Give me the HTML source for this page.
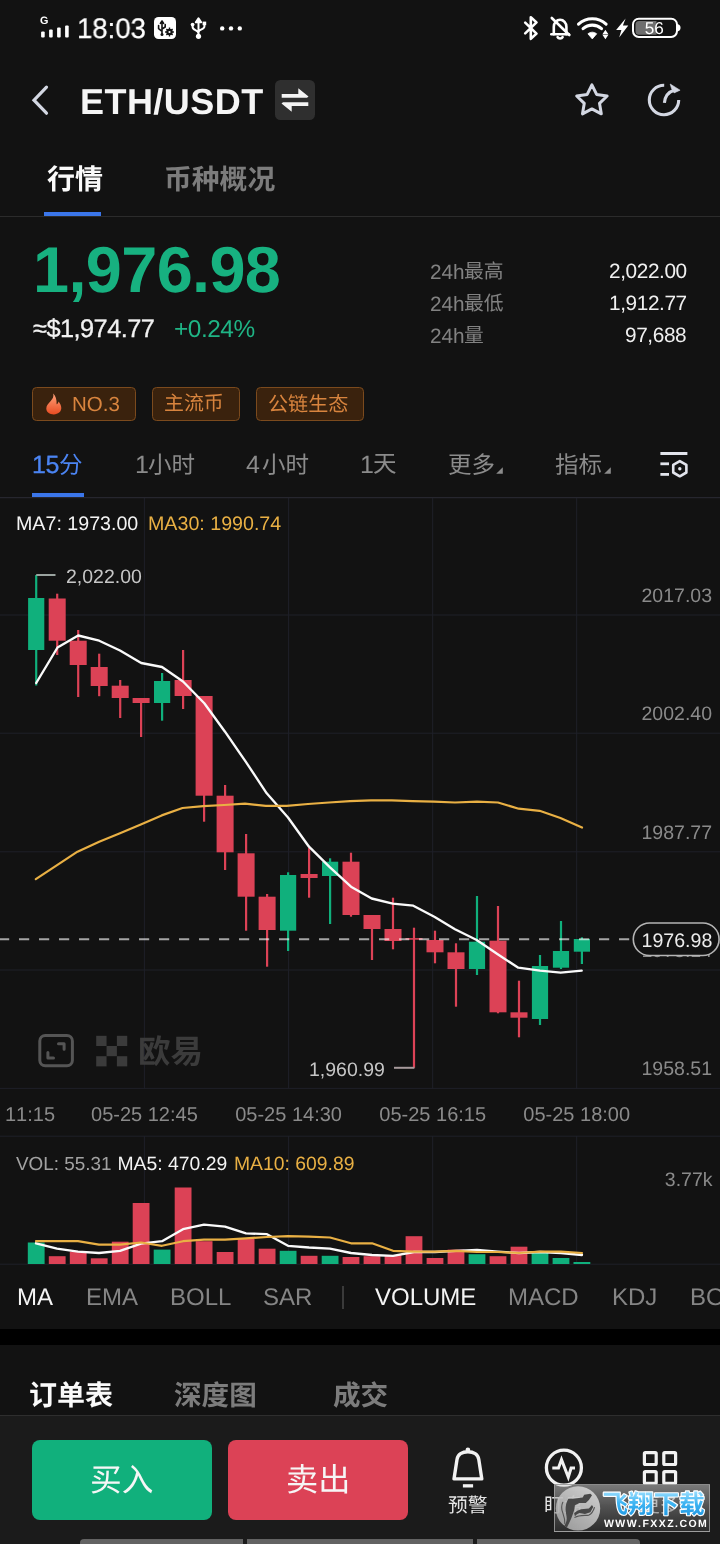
<!DOCTYPE html>
<html lang="zh-CN"><head><meta charset="utf-8"><title>ETH/USDT</title>
<style>
html,body{margin:0;padding:0;background:#121212}
*{text-rendering:geometricPrecision;-webkit-font-smoothing:antialiased;font-kerning:none}
body{width:720px;height:1544px;overflow:hidden;position:relative;font-family:"Liberation Sans",sans-serif}
#app{position:absolute;left:0;top:0;width:720px;height:1544px;overflow:hidden;background:#121212}
.t,svg.abs{will-change:transform}
.abs,.cj,.t,.tag{position:absolute}
.t{line-height:1;white-space:nowrap;font-family:"Liberation Sans",sans-serif}
.c{font-family:"Liberation Sans","Noto Sans CJK SC",sans-serif}
.cj{display:block;overflow:visible}
.tag{top:387px;height:34px;box-sizing:border-box;border:1.500px solid #7b4a1d;border-radius:4.500px;background:#3a220d}
</style></head><body><div id="app">
<!-- status bar -->
<svg class="abs" style="left:0;top:0" width="720" height="56" viewBox="0 0 720 56">
<g fill="#fff">
<text x="40" y="23.600" font-family="Liberation Sans" font-weight="700" font-size="10.800">G</text>
<rect x="41.100" y="31.600" width="3.600" height="6" rx="1"/><rect x="49.100" y="29.500" width="3.600" height="8.100" rx="1"/><rect x="57.100" y="27.400" width="3.600" height="10.200" rx="1"/><rect x="65.100" y="25.400" width="3.600" height="12.200" rx="1"/>
<rect x="154" y="17" width="22" height="22" rx="4.5"/>
<circle cx="222.200" cy="28.400" r="2.200"/><circle cx="231" cy="28.400" r="2.200"/><circle cx="239.800" cy="28.400" r="2.200"/>
</g>
<!-- usb inside square (dark) -->
<g stroke="#121212" stroke-width="1.6" fill="none" stroke-linecap="round" stroke-linejoin="round">
<path d="M162 21v13M162 21l-1.6 2.4M162 21l1.6 2.4M158.6 25.5v3.2l3.4 2.6M165.2 24.6v2.4l-3.2 2"/>
</g>
<circle cx="162" cy="34.6" r="1.5" fill="#121212"/>
<g fill="#121212"><circle cx="169.5" cy="32" r="3.2"/></g><circle cx="169.5" cy="32" r="1.3" fill="#fff"/>
<g stroke="#121212" stroke-width="1.4"><path d="M169.5 27.6v8.8M165.1 32h8.8M166.4 28.9l6.2 6.2M172.6 28.9l-6.2 6.2"/></g><circle cx="169.5" cy="32" r="2.4" fill="#121212"/><circle cx="169.5" cy="32" r="1.1" fill="#fff"/>
<!-- usb -->
<g stroke="#fff" stroke-width="2" fill="none" stroke-linecap="round" stroke-linejoin="round">
<path d="M198.500 20v15.500M198.500 18.300l-2.700 4h5.400zM192.600 25v2c0 3.600 5.900 2.600 5.900 6.600M204.400 24.600v1.800c0 3.400-5.900 2.400-5.900 6"/>
</g>
<circle cx="198.5" cy="36.3" r="2.6" fill="#fff"/><circle cx="192.6" cy="24.6" r="1.9" fill="#fff"/><rect x="202.6" y="21.6" width="3.6" height="3.6" fill="#fff"/>
<!-- bluetooth -->
<path d="M525.200 22.600l11.300 11-5.700 5.200v-21.600l5.700 5.200-11.300 11" stroke="#fff" stroke-width="2.600" fill="none" stroke-linejoin="round" stroke-linecap="round"/>
<!-- bell off -->
<g stroke="#fff" stroke-width="2.600" fill="none" stroke-linecap="round" stroke-linejoin="round">
<path d="M551.300 34.300h17.600"/><path d="M553.800 34.300v-7.600a6.300 7 0 0 1 12.600 0v7.600"/>
<path d="M557.600 37.200a2.700 2.200 0 0 0 5 0"/><path d="M551.800 18l17.500 17" />
</g>
<!-- wifi -->
<g stroke="#fff" stroke-width="3.100" fill="none" stroke-linecap="round"><path d="M578.52 24.13A20.2 20.2 0 0 1 606.08 24.13"/><path d="M583.07 28.64A13.8 13.8 0 0 1 601.53 28.64"/></g>
<path d="M592.300 38.900L587.900 33.800A6.700 6.700 0 0 1 596.700 33.800z" fill="#fff" stroke="#fff" stroke-width=".8" stroke-linejoin="round"/>
<path d="M605.400 29.800l3 4.400h-6zM605.400 39.200l3-4.400h-6z" fill="#fff"/>
<!-- bolt -->
<path d="M625.600 18.400l-9.500 11.600h5.300l-2.200 7.400 9.100-12h-5.400z" fill="#fff"/>
<!-- battery -->
<rect x="633" y="18.700" width="44" height="18.200" rx="5.800" fill="none" stroke="#fff" stroke-width="2"/>
<path d="M639 20.900h17.500v13.800h-17.500a3.500 3.500 0 0 1-3.500-3.500v-6.800a3.500 3.500 0 0 1 3.500-3.500z" fill="#6e6e6e"/>
<path d="M678 24.300c3.400.4 3.400 6.600 0 7z" fill="#fff"/>
<text x="654.200" y="34" font-family="Liberation Sans" font-size="17.200" fill="#fff" text-anchor="middle">56</text>
</svg>
<div class="t" style="left:77.20px;top:14.96px;font-size:28.4px;color:#fff;font-weight:400;transform:scaleX(.97);transform-origin:0 0;-webkit-text-stroke:.25px #fff;">18:03</div>
<!-- header -->
<svg class="abs" style="left:28px;top:82px" width="24" height="36" viewBox="0 0 24 36"><path d="M18.500 5.200L6 18.200l12.500 13" fill="none" stroke="#d3d7e2" stroke-width="3.200" stroke-linecap="round" stroke-linejoin="miter"/></svg>
<div class="t" style="left:79.80px;top:84.03px;font-size:36px;color:#f5f5f5;font-weight:700;letter-spacing:0.45px;">ETH/USDT</div>
<svg class="abs" style="left:275px;top:80px" width="40" height="40" viewBox="0 0 40 40"><rect width="40" height="40" rx="5.500" fill="#2f2f2f"/><path d="M6.700 13.900H30l3.500 2.700-1.500 1.200H6.700zM23.300 8.300L33.500 16.600 23.300 17.500zM33.300 26.100H10L6.500 23.400 8 22.200h25.300zM16.700 31.700L6.500 23.400l10.200-.9z" fill="#f4f4f4"/></svg>
<svg class="abs" style="left:570px;top:78px" width="44" height="44" viewBox="570 78 44 44"><polygon points="591.90,84.90 596.60,94.43 607.12,95.96 599.51,103.37 601.30,113.84 591.90,108.90 582.50,113.84 584.29,103.37 576.68,95.96 587.20,94.43" fill="none" stroke="#d3d7e2" stroke-width="3" stroke-linejoin="round"/></svg>
<svg class="abs" style="left:642px;top:78px" width="44" height="44" viewBox="642 78 44 44"><g fill="none" stroke="#d3d7e2" stroke-width="3.100" stroke-linecap="butt" stroke-linejoin="round"><path d="M664.200 85.300a14.700 14.700 0 1 0 14.500 14.700"/><path d="M664.400 102.900c.4-6.400 3.900-11 10.200-13"/></g><path d="M670.200 84l9.900 6.200-6 2.700-2.600-4.400z" fill="#d3d7e2" stroke="#d3d7e2" stroke-width=".6" stroke-linejoin="round"/></svg>
<!-- tabs -->
<div class="t c" style="left:46.78px;top:166.30px;font-size:28px;color:#fafafa;font-weight:700;">行情</div>
<div class="t c" style="left:164.11px;top:166.30px;font-size:27.8px;color:#7c7c7c;font-weight:700;">币种概况</div>
<div class="abs" style="left:44px;top:212px;width:56.500px;height:4.500px;background:#3b76ea"></div>
<div class="abs" style="left:0;top:216px;width:720px;height:1.200px;background:#2b2b2b"></div>
<!-- price -->
<div class="t" style="left:33.00px;top:238.35px;font-size:64.8px;color:#17b180;font-weight:700;letter-spacing:-0.62px;">1,976.98</div>
<div class="t" style="left:33.00px;top:316.70px;font-size:25.4px;color:#f2f2f2;font-weight:400;letter-spacing:-0.55px;-webkit-text-stroke:.3px #f2f2f2;">≈$1,974.77</div>
<div class="t" style="left:174.20px;top:317.55px;font-size:24.4px;color:#1fb485;font-weight:400;letter-spacing:-0.45px;">+0.24%</div>
<div class="t" style="left:429.60px;top:262.89px;font-size:20.8px;color:#828282;font-weight:400;letter-spacing:-0.1px;">24h</div>
<div class="t c" style="left:464.07px;top:263.33px;font-size:19.8px;color:#828282;font-weight:400;">最高</div>
<div class="t" style="right:33.50px;top:262.39px;font-size:20.8px;color:#f0f0f0;font-weight:400;letter-spacing:-0.4px;">2,022.00</div>
<div class="t" style="left:429.60px;top:294.89px;font-size:20.8px;color:#828282;font-weight:400;letter-spacing:-0.1px;">24h</div>
<div class="t c" style="left:464.07px;top:295.23px;font-size:19.8px;color:#828282;font-weight:400;">最低</div>
<div class="t" style="right:33.50px;top:294.39px;font-size:20.8px;color:#f0f0f0;font-weight:400;letter-spacing:-0.4px;">1,912.77</div>
<div class="t" style="left:429.60px;top:326.89px;font-size:20.8px;color:#828282;font-weight:400;letter-spacing:-0.1px;">24h</div>
<div class="t c" style="left:464.07px;top:326.64px;font-size:19.8px;color:#828282;font-weight:400;">量</div>
<div class="t" style="right:33.50px;top:326.39px;font-size:20.8px;color:#f0f0f0;font-weight:400;letter-spacing:-0.4px;">97,688</div>
<!-- tags -->
<div class="tag" style="left:32px;width:104px"></div>
<div class="tag" style="left:152px;width:88px"></div>
<div class="tag" style="left:256px;width:108px"></div>
<svg class="abs" style="left:45px;top:392px" width="18" height="24" viewBox="0 0 18 24"><defs><linearGradient id="fl" x1="0" y1="0" x2="0" y2="1"><stop offset="0" stop-color="#ffa27a"/><stop offset="1" stop-color="#e84c22"/></linearGradient></defs><path d="M8.200 1.600c.8 3.400-.6 5.300-2.500 7.400C3.600 11.300 1.300 13.300 1.300 16.500c0 3.600 3.200 5.900 7.500 5.900s7.500-2.500 7.500-6.300c0-2.600-1.300-5-2.700-6.700-.4 1.400-1 2.300-2 2.900.3-4.400-1-8.400-3.400-10.700z" fill="url(#fl)"/></svg>
<div class="t" style="left:72.00px;top:395.25px;font-size:20.5px;color:#d8843e;font-weight:400;">NO.3</div>
<div class="t c" style="left:164.09px;top:394.67px;font-size:19.9px;color:#d8843e;font-weight:400;">主流币</div>
<div class="t c" style="left:267.77px;top:394.75px;font-size:20.1px;color:#d8843e;font-weight:400;">公链生态</div>
<!-- timeframes -->
<div class="t" style="left:32.00px;top:453.14px;font-size:25px;color:#4b84f2;font-weight:400;letter-spacing:-0.4px;-webkit-text-stroke:.3px #4b84f2;">15</div>
<div class="t c" style="left:59.47px;top:453.63px;font-size:23.5px;color:#4b84f2;font-weight:400;">分</div>
<div class="t" style="left:134.60px;top:453.14px;font-size:25px;color:#8b8b8b;font-weight:400;">1</div>
<div class="t c" style="left:147.85px;top:453.93px;font-size:23.5px;color:#8b8b8b;font-weight:400;">小时</div>
<div class="t" style="left:246.20px;top:453.14px;font-size:25px;color:#8b8b8b;font-weight:400;">4</div>
<div class="t c" style="left:261.85px;top:453.93px;font-size:23.5px;color:#8b8b8b;font-weight:400;">小时</div>
<div class="t" style="left:359.60px;top:453.14px;font-size:25px;color:#8b8b8b;font-weight:400;">1</div>
<div class="t c" style="left:372.61px;top:453.24px;font-size:23.5px;color:#8b8b8b;font-weight:400;">天</div>
<div class="t c" style="left:447.90px;top:454.30px;font-size:23.5px;color:#8b8b8b;font-weight:400;">更多</div>
<div class="t c" style="left:555.47px;top:454.05px;font-size:23.5px;color:#8b8b8b;font-weight:400;">指标</div>
<svg class="abs" style="left:495px;top:466px" width="9" height="9" viewBox="0 0 9 9"><path d="M7.800 1.200v6.600H1.200z" fill="#8b8b8b"/></svg>
<svg class="abs" style="left:603px;top:466px" width="9" height="9" viewBox="0 0 9 9"><path d="M7.800 1.200v6.600H1.200z" fill="#8b8b8b"/></svg>
<div class="abs" style="left:31.500px;top:492.500px;width:52.500px;height:4.500px;background:#3b76ea"></div>
<svg class="abs" style="left:656px;top:448px" width="36" height="34" viewBox="656 448 36 34"><g fill="#e2e4ec"><rect x="660.400" y="452" width="27" height="3"/><rect x="660.400" y="462.400" width="8.600" height="2.800"/><rect x="660.400" y="473" width="8.600" height="2.800"/><circle cx="679.800" cy="468.700" r="1.700"/></g><polygon points="679.80,461.10 686.38,464.90 686.38,472.50 679.80,476.30 673.22,472.50 673.22,464.90" fill="none" stroke="#e2e4ec" stroke-width="2.600" stroke-linejoin="round"/></svg>
<!-- chart -->
<svg class="abs" style="left:0;top:497px" width="720" height="769" viewBox="0 497 720 769" font-family="Liberation Sans, sans-serif">
<g stroke="#1f2029" stroke-width="1" fill="none">
<path d="M144.4 497.500V1088.500M144.4 1136V1264"/>
<path d="M288.6 497.500V1088.500M288.6 1136V1264"/>
<path d="M432.7 497.500V1088.500M432.7 1136V1264"/>
<path d="M576.7 497.500V1088.500M576.7 1136V1264"/>
<path d="M0 615H720"/>
<path d="M0 733.2H720"/>
<path d="M0 851.8H720"/>
<path d="M0 970H720"/>
<path d="M0 1088.4H720"/>
<path d="M0 1136.2H720"/>
<path d="M0 1264.2H720"/>
</g>
<path d="M0 497.600H720" stroke="#26262e" stroke-width="1.400"/>
<rect x="35.1" y="575" width="2.200" height="110.5" fill="#10b07c"/><rect x="28.1" y="598" width="16.2" height="52.0" fill="#10b07c"/>
<rect x="56.1" y="593.7" width="2.200" height="61.3" fill="#dc4256"/><rect x="48.7" y="598.5" width="17.0" height="42.2" fill="#dc4256"/>
<rect x="77.1" y="630" width="2.200" height="67.0" fill="#dc4256"/><rect x="69.7" y="640.7" width="17.0" height="24.3" fill="#dc4256"/>
<rect x="98.1" y="653.7" width="2.200" height="42.5" fill="#dc4256"/><rect x="90.7" y="667" width="17.0" height="19.0" fill="#dc4256"/>
<rect x="119.1" y="680" width="2.200" height="38.0" fill="#dc4256"/><rect x="111.7" y="685.7" width="17.0" height="12.3" fill="#dc4256"/>
<rect x="140.0" y="698" width="2.200" height="39.0" fill="#dc4256"/><rect x="132.6" y="698" width="17.0" height="5.0" fill="#dc4256"/>
<rect x="161.0" y="673" width="2.200" height="47.7" fill="#10b07c"/><rect x="154.0" y="681" width="16.2" height="22.0" fill="#10b07c"/>
<rect x="182.0" y="650" width="2.200" height="59.0" fill="#dc4256"/><rect x="174.6" y="680" width="17.0" height="16.0" fill="#dc4256"/>
<rect x="203.0" y="696" width="2.200" height="125.7" fill="#dc4256"/><rect x="195.6" y="696" width="17.0" height="99.7" fill="#dc4256"/>
<rect x="224.0" y="785" width="2.200" height="85.0" fill="#dc4256"/><rect x="216.6" y="795.7" width="17.0" height="56.6" fill="#dc4256"/>
<rect x="245.0" y="834" width="2.200" height="96.7" fill="#dc4256"/><rect x="237.6" y="853.3" width="17.0" height="43.4" fill="#dc4256"/>
<rect x="266.0" y="894" width="2.200" height="72.7" fill="#dc4256"/><rect x="258.6" y="896.7" width="17.0" height="33.3" fill="#dc4256"/>
<rect x="287.0" y="872.3" width="2.200" height="78.7" fill="#10b07c"/><rect x="280.0" y="875" width="16.2" height="55.7" fill="#10b07c"/>
<rect x="308.0" y="847.7" width="2.200" height="50.0" fill="#dc4256"/><rect x="300.6" y="874" width="17.0" height="4.0" fill="#dc4256"/>
<rect x="329.0" y="858.3" width="2.200" height="65.7" fill="#10b07c"/><rect x="322.0" y="861.7" width="16.2" height="14.3" fill="#10b07c"/>
<rect x="349.9" y="852.7" width="2.200" height="64.0" fill="#dc4256"/><rect x="342.5" y="861.7" width="17.0" height="53.3" fill="#dc4256"/>
<rect x="370.9" y="915" width="2.200" height="45.0" fill="#dc4256"/><rect x="363.5" y="915" width="17.0" height="14.0" fill="#dc4256"/>
<rect x="391.9" y="897.7" width="2.200" height="51.6" fill="#dc4256"/><rect x="384.5" y="929" width="17.0" height="12.0" fill="#dc4256"/>
<rect x="412.9" y="927.7" width="2.200" height="140.1" fill="#dc4256"/><rect x="405.5" y="938.1" width="17.0" height="1.6" fill="#dc4256"/>
<rect x="433.9" y="930.7" width="2.200" height="32.6" fill="#dc4256"/><rect x="426.5" y="940" width="17.0" height="12.3" fill="#dc4256"/>
<rect x="454.9" y="943.3" width="2.200" height="63.4" fill="#dc4256"/><rect x="447.5" y="952.3" width="17.0" height="16.7" fill="#dc4256"/>
<rect x="475.9" y="896" width="2.200" height="79.0" fill="#10b07c"/><rect x="468.9" y="941.7" width="16.2" height="27.3" fill="#10b07c"/>
<rect x="496.9" y="906" width="2.200" height="107.3" fill="#dc4256"/><rect x="489.5" y="940.7" width="17.0" height="71.6" fill="#dc4256"/>
<rect x="517.9" y="980.7" width="2.200" height="56.6" fill="#dc4256"/><rect x="510.5" y="1012.3" width="17.0" height="5.4" fill="#dc4256"/>
<rect x="538.9" y="955" width="2.200" height="70.0" fill="#10b07c"/><rect x="531.9" y="966" width="16.2" height="53.0" fill="#10b07c"/>
<rect x="559.9" y="921" width="2.200" height="48.0" fill="#10b07c"/><rect x="552.9" y="951" width="16.2" height="16.7" fill="#10b07c"/>
<rect x="580.8" y="937.3" width="2.200" height="26.7" fill="#10b07c"/><rect x="573.8" y="939" width="16.2" height="12.7" fill="#10b07c"/>
<path d="M-1 939.200H632" stroke="#fff" stroke-opacity=".62" stroke-width="2" stroke-dasharray="10.200 9.800" fill="none"/>
<polyline points="36.2,683 57.5,647.5 78.2,635.5 99.2,640.7 120,650.5 141.2,663 162,667 183,681.5 204.3,703.3 225,731.7 245.7,761.7 266.7,793.3 288,817.5 309,846.7 330,867.3 351,886.7 371.7,898.5 392.7,903.7 413.3,905.7 434.3,916.7 455,929.3 476.7,940 497.7,954.3 518.3,967.7 540,970.7 560.7,972.7 581.7,970.7" fill="none" stroke="#fafafa" stroke-width="2.350" stroke-linejoin="round" stroke-linecap="round"/>
<polyline points="35.8,879.2 56.7,865.4 77.5,851.7 99.2,841.7 120,833.3 140.8,824.6 161.7,815.4 182.5,808 203.3,806.2 224.2,805 245,803.7 265.8,805.8 286.7,805.8 308,804 329,802.5 350,801.2 371,800.4 391.7,800.4 412.5,801.2 434,801.7 455,802.5 477,801.7 498,802.5 518.7,808.7 539.6,810.8 560.4,818 582,827.5" fill="none" stroke="#e9b044" stroke-width="2.200" stroke-linejoin="round" stroke-linecap="round"/>
<path d="M36.200 575H55.500" stroke="#9aa39f" stroke-width="2" fill="none"/>
<path d="M394 1067.800H414.400" stroke="#a79a9c" stroke-width="2" fill="none"/>
<text x="66" y="583" font-size="19.500" fill="#c6c6c6">2,022.00</text>
<text x="309" y="1076" font-size="19.500" fill="#c6c6c6">1,960.99</text>
<text x="16" y="530.300" font-size="19.650" fill="#f4f4f4">MA7: 1973.00</text>
<text x="148" y="530.300" font-size="19.650" fill="#e9b044">MA30: 1990.74</text>
<text x="712" y="602.0" font-size="19.500" fill="#8a8a8a" text-anchor="end">2017.03</text>
<text x="712" y="720.3" font-size="19.500" fill="#8a8a8a" text-anchor="end">2002.40</text>
<text x="712" y="838.6" font-size="19.500" fill="#8a8a8a" text-anchor="end">1987.77</text>
<text x="712" y="956.9" font-size="19.500" fill="#8a8a8a" text-anchor="end">1973.14</text>
<text x="712" y="1075.2" font-size="19.500" fill="#8a8a8a" text-anchor="end">1958.51</text>
<rect x="633.300" y="923" width="85.800" height="32.500" rx="16.250" fill="#121212" stroke="#b4b4b4" stroke-width="1.600"/>
<text x="641.500" y="947.300" font-size="19.600" fill="#ececec">1976.98</text>
<g fill="none" stroke="#555" stroke-width="3" stroke-linecap="round" stroke-linejoin="round"><rect x="39.800" y="1035.400" width="32.600" height="30.400" rx="5.500"/><path d="M58.500 1043.700h5.600v5.600M53.500 1058h-5.600v-5.600"/></g>
<g fill="#3b3b3b">
<rect x="96.20" y="1035.80" width="10.350" height="10.200"/>
<rect x="116.90" y="1035.80" width="10.350" height="10.200"/>
<rect x="106.55" y="1046.00" width="10.350" height="10.200"/>
<rect x="96.20" y="1056.20" width="10.350" height="10.200"/>
<rect x="116.90" y="1056.20" width="10.350" height="10.200"/>
</g>
<text x="144.4" y="1121" font-size="20" fill="#8a8a8a" text-anchor="middle">05-25 12:45</text>
<text x="288.6" y="1121" font-size="20" fill="#8a8a8a" text-anchor="middle">05-25 14:30</text>
<text x="432.7" y="1121" font-size="20" fill="#8a8a8a" text-anchor="middle">05-25 16:15</text>
<text x="576.7" y="1121" font-size="20" fill="#8a8a8a" text-anchor="middle">05-25 18:00</text>
<text x="5" y="1121" font-size="20" fill="#8a8a8a">11:15</text>
<text x="16" y="1169.800" font-size="18.900" fill="#a2a2a2">VOL: 55.31</text>
<text x="117.500" y="1169.800" font-size="19.350" fill="#f4f4f4">MA5: 470.29</text>
<text x="234" y="1169.800" font-size="19.350" fill="#e9b044">MA10: 609.89</text>
<text x="712.500" y="1186.300" font-size="19.500" fill="#8a8a8a" text-anchor="end">3.77k</text>
<rect x="27.8" y="1242.5" width="16.800" height="21.5" fill="#10b07c"/>
<rect x="48.8" y="1256.2" width="16.800" height="7.8" fill="#dc4256"/>
<rect x="69.8" y="1251.7" width="16.800" height="12.3" fill="#dc4256"/>
<rect x="90.8" y="1258.3" width="16.800" height="5.7" fill="#dc4256"/>
<rect x="111.8" y="1241.7" width="16.800" height="22.3" fill="#dc4256"/>
<rect x="132.7" y="1203" width="16.800" height="61.0" fill="#dc4256"/>
<rect x="153.7" y="1249.6" width="16.800" height="14.4" fill="#10b07c"/>
<rect x="174.7" y="1187.5" width="16.800" height="76.5" fill="#dc4256"/>
<rect x="195.7" y="1241.2" width="16.800" height="22.8" fill="#dc4256"/>
<rect x="216.7" y="1252" width="16.800" height="12.0" fill="#dc4256"/>
<rect x="237.7" y="1238.3" width="16.800" height="25.7" fill="#dc4256"/>
<rect x="258.7" y="1248.7" width="16.800" height="15.3" fill="#dc4256"/>
<rect x="279.7" y="1250.8" width="16.800" height="13.2" fill="#10b07c"/>
<rect x="300.7" y="1255.8" width="16.800" height="8.2" fill="#dc4256"/>
<rect x="321.7" y="1255.8" width="16.800" height="8.2" fill="#10b07c"/>
<rect x="342.6" y="1257" width="16.800" height="7.0" fill="#dc4256"/>
<rect x="363.6" y="1256.2" width="16.800" height="7.8" fill="#dc4256"/>
<rect x="384.6" y="1255" width="16.800" height="9.0" fill="#dc4256"/>
<rect x="405.6" y="1236.2" width="16.800" height="27.8" fill="#dc4256"/>
<rect x="426.6" y="1258" width="16.800" height="6.0" fill="#dc4256"/>
<rect x="447.6" y="1249.6" width="16.800" height="14.4" fill="#dc4256"/>
<rect x="468.6" y="1254.2" width="16.800" height="9.8" fill="#10b07c"/>
<rect x="489.6" y="1256.2" width="16.800" height="7.8" fill="#dc4256"/>
<rect x="510.6" y="1246.7" width="16.800" height="17.3" fill="#dc4256"/>
<rect x="531.6" y="1253" width="16.800" height="11.0" fill="#10b07c"/>
<rect x="552.6" y="1258" width="16.800" height="6.0" fill="#10b07c"/>
<rect x="573.5" y="1262" width="16.800" height="2.0" fill="#10b07c"/>
<polyline points="36,1243.3 57,1248.7 78,1251.7 99,1253 120,1250.8 141,1243.7 162,1241.2 183,1229.2 204,1224.6 225,1226.7 246,1233.3 267,1234.2 288,1245.8 309,1247.5 330,1248.7 351,1253 372,1255 393,1255.8 414,1252 435,1252 456,1250.8 477,1250 498,1251.7 519,1253 540,1252 561,1253 582,1255" fill="none" stroke="#fafafa" stroke-width="2.350" stroke-linejoin="round" stroke-linecap="round"/>
<polyline points="36,1241.2 78,1241.2 99,1244.6 120,1244.6 141,1242.5 162,1245.8 183,1241.2 204,1239.6 225,1239.6 246,1238.3 267,1237 288,1236.2 309,1236.6 330,1237.5 351,1243.3 372,1243.3 393,1250.8 414,1251.7 435,1251.7 456,1250.8 477,1252 498,1252 519,1253 540,1251.7 561,1251.7 582,1253" fill="none" stroke="#e9b044" stroke-width="2.200" stroke-linejoin="round" stroke-linecap="round"/>
</svg>
<div class="t c" style="left:137.52px;top:1035.77px;font-size:32.5px;color:#3b3b3b;font-weight:700;">欧易</div>
<!-- indicator tabs -->
<div class="t" style="left:16.50px;top:1286.18px;font-size:24px;color:#f4f4f4;font-weight:400;">MA</div>
<div class="t" style="left:86.00px;top:1286.18px;font-size:24px;color:#858585;font-weight:400;">EMA</div>
<div class="t" style="left:170.00px;top:1286.18px;font-size:24px;color:#858585;font-weight:400;">BOLL</div>
<div class="t" style="left:262.50px;top:1286.18px;font-size:24px;color:#858585;font-weight:400;">SAR</div>
<div class="t" style="left:375.00px;top:1286.18px;font-size:24px;color:#f4f4f4;font-weight:400;">VOLUME</div>
<div class="t" style="left:507.50px;top:1286.18px;font-size:24px;color:#858585;font-weight:400;">MACD</div>
<div class="t" style="left:611.50px;top:1286.18px;font-size:24px;color:#858585;font-weight:400;">KDJ</div>
<div class="t" style="left:689.50px;top:1286.18px;font-size:24px;color:#858585;font-weight:400;">BOLL</div>
<div class="abs" style="left:342px;top:1286px;width:1.500px;height:23px;background:#3a3a3a"></div>
<div class="abs" style="left:0;top:1329px;width:720px;height:16px;background:#000"></div>
<!-- order tabs -->
<div class="t c" style="left:29.47px;top:1381.50px;font-size:28px;color:#fafafa;font-weight:700;">订单表</div>
<div class="t c" style="left:174.43px;top:1381.69px;font-size:27.6px;color:#7c7c7c;font-weight:700;">深度图</div>
<div class="t c" style="left:333.31px;top:1381.83px;font-size:27.6px;color:#7c7c7c;font-weight:700;">成交</div>
<!-- bottom bar -->
<div class="abs" style="left:0;top:1414.500px;width:720px;height:130px;background:#1b1b1b;border-top:1.500px solid #2e2e2e"></div>
<div class="abs" style="left:32px;top:1440px;width:180px;height:79.500px;border-radius:8px;background:#11b07c"></div>
<div class="abs" style="left:228px;top:1440px;width:180px;height:79.500px;border-radius:8px;background:#dc4256"></div>
<div class="t c" style="left:90.21px;top:1464.85px;font-size:31.7px;color:#f6f6f6;font-weight:400;">买入</div>
<div class="t c" style="left:285.53px;top:1464.39px;font-size:32.2px;color:#f6f6f6;font-weight:400;">卖出</div>
<svg class="abs" style="left:446px;top:1442px" width="44" height="50" viewBox="446 1442 44 50"><path d="M454 1478.900h27.800l-3-19.500c-.8-4.900-5.200-7.700-10.900-7.700s-10.100 2.800-10.900 7.700z" fill="none" stroke="#f2f2f2" stroke-width="3.400" stroke-linejoin="round"/><circle cx="467.900" cy="1449.800" r="2.300" fill="#f2f2f2"/><rect x="462.900" y="1484.200" width="10.200" height="3.300" fill="#f2f2f2"/></svg>
<div class="t c" style="left:448.25px;top:1496.71px;font-size:19.8px;color:#e4e4e4;font-weight:400;">预警</div>
<svg class="abs" style="left:542px;top:1446px" width="44" height="44" viewBox="542 1446 44 44"><g fill="none" stroke="#f2f2f2" stroke-width="3.300"><circle cx="563.900" cy="1467.700" r="17.500"/><path d="M552.300 1468h6.200l3-8.400 6.800 17.600 2.800-9.200h3.900" stroke-width="3" stroke-linejoin="miter" stroke-miterlimit="8"/></g></svg>
<div class="t c" style="left:544.28px;top:1496.87px;font-size:19.8px;color:#e4e4e4;font-weight:400;">盯盘</div>
<svg class="abs" style="left:640px;top:1448px" width="40" height="40" viewBox="640 1448 40 40"><g fill="none" stroke="#f2f2f2" stroke-width="3.200" stroke-linejoin="round"><rect x="644.400" y="1452.700" width="11.800" height="11.800" rx="1"/><rect x="663.800" y="1452.700" width="11.800" height="11.800" rx="1"/><rect x="644.400" y="1471.600" width="11.800" height="11.800" rx="1"/><rect x="663.800" y="1471.600" width="11.800" height="11.800" rx="1"/></g></svg>
<div class="t c" style="left:639.57px;top:1496.71px;font-size:19.8px;color:#e4e4e4;font-weight:400;">更多</div>
<div class="abs" style="left:80px;top:1539px;width:163px;height:8px;background:#636363;border-radius:4px 0 0 0"></div>
<div class="abs" style="left:247px;top:1539px;width:226px;height:8px;background:#636363"></div>
<div class="abs" style="left:477px;top:1539px;width:163px;height:8px;background:#636363;border-radius:0 4px 0 0"></div>
<!-- watermark -->
<div class="abs" style="left:553.500px;top:1484px;width:156px;height:48px;background:linear-gradient(180deg,rgba(215,215,215,.5) 0%,rgba(135,135,135,.52) 45%,rgba(58,58,58,.56) 100%);border:1px solid rgba(170,170,170,.75);box-sizing:border-box"></div>
<svg class="abs" style="left:554px;top:1485px" width="48" height="47" viewBox="554 1485 48 47"><defs><linearGradient id="lg" x1="1" y1="0" x2="0" y2="1"><stop offset="0" stop-color="#e2e2e2"/><stop offset="1" stop-color="#a8a8a8"/></linearGradient></defs>
<circle cx="578" cy="1508.400" r="22.200" fill="url(#lg)" fill-opacity=".86"/>
<g fill="#484848">
<path d="M568.300 1498.700h5l9.400-1.100 1.500-2.800 6.200-1.100 1.600 1.500-3.100 4.700-3.100 3.100h-6.300l-4.600 2.300c-.3 3.500-1 6.500-2.300 9.400-1 2.600-1.900 5.200-3.200 7.700l-2.700 5.500-2.300-2.400c1.600-2.400 2.300-4.800 2.300-7 0-3.200-1.100-6-1.100-9.300 0-2.600.4-5 1.100-7z"/>
<path d="M574.100 1513.100c2-1.800 4.300-3.100 7-3.900l7.800-.8 3.100-3.500 1.200 2-2.800 5.400-5.400 1.600-5.500-.8c-1.900.8-3.400 1.800-4.600 3.100z"/>
</g>
<g fill="none" stroke="#555" stroke-width="1.100" stroke-linecap="round"><path d="M562.800 1502.200c-1.400 3-1.400 6.800-.2 10 1.200 3.400 2.400 6.600 2.200 11.200"/><path d="M574.900 1517.400c4-2.500 9-1.800 14-2.300 2.800-1.400 4.600-4.600 5.500-7.600"/></g>
</svg>
<svg class="cj" style="left:603.50px;top:1491.60px;overflow:visible;stroke:#fff;stroke-width:90;paint-order:stroke fill;stroke-linejoin:round;" width="100.00" height="23.86" viewBox="54 -850 3918 947" preserveAspectRatio="none" fill="url(#wg)"><defs><linearGradient id="wg" x1="0" y1="0" x2="0" y2="1"><stop offset="0" stop-color="#9fe0ff"/><stop offset=".45" stop-color="#3db4f2"/><stop offset="1" stop-color="#1b93e0"/></linearGradient></defs><text x="0" y="0" font-size="1000" font-weight="700" font-family="'Liberation Sans','Noto Sans CJK SC',sans-serif">飞翔下载</text></svg>
<div class="t" style="left:603.500px;top:1519.300px;font-size:10.500px;font-weight:700;color:#fff;letter-spacing:1.450px;">WWW.FXXZ.COM</div>
</div></body></html>
